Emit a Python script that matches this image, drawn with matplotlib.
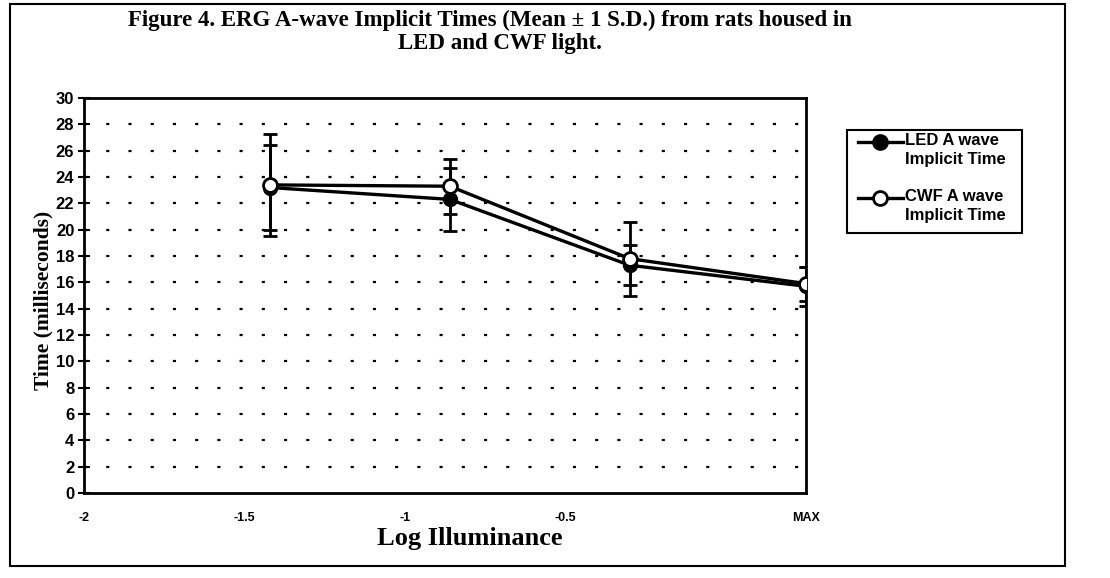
import matplotlib
matplotlib.use("Agg")
import matplotlib.pyplot as plt
from matplotlib.patches import Rectangle
from matplotlib.lines import Line2D

# ---- data ----
x_pos = [-1.42, -0.86, -0.30, 0.25]          # plotted x positions on the log-illuminance axis
led_mean = [23.2, 22.3, 17.3, 15.7]
led_sd = [3.2, 2.4, 1.5, 1.5]
cwf_mean = [23.4, 23.3, 17.8, 15.9]
cwf_sd = [3.85, 2.1, 2.8, 1.3]
x_ticks = [-2, -1.5, -1, -0.5, 0.25]
x_ticklabels = ["-2", "-1.5", "-1", "-0.5", "MAX"]
y_ticks = list(range(0, 31, 2))
series_labels = ["LED A wave\nImplicit Time", "CWF A wave\nImplicit Time"]

SANS = ["Liberation Sans", "DejaVu Sans"]
SERIF = ["Liberation Serif", "DejaVu Serif"]

W, H = 1110, 578
fig = plt.figure(figsize=(11.1, 5.78), dpi=100)
ax = fig.add_axes([84/W, 1-493/H, 722/W, 395/H])

# horizontal dotted gridlines
for yv in y_ticks[1:-1]:
    ax.axhline(yv, color="black", lw=1.6, ls=(0, (1.4, 8.6)), zorder=0)

ax.errorbar(x_pos, led_mean, yerr=led_sd, color="black", lw=2.4, marker="o",
            ms=10, mfc="black", mec="black", ecolor="black", elinewidth=2,
            capsize=5, capthick=2, zorder=3)
ax.errorbar(x_pos, cwf_mean, yerr=cwf_sd, color="black", lw=2.4, marker="o",
            ms=10, mfc="white", mec="black", mew=2, ecolor="black", elinewidth=2,
            capsize=5, capthick=2, zorder=4)

ax.set_xlim(-2, 0.25)
ax.set_ylim(0, 30)
ax.set_yticks(y_ticks)
ax.set_xticks(x_ticks)
ax.set_xticklabels(x_ticklabels)
for s in ax.spines.values():
    s.set_linewidth(2)
ax.tick_params(axis="y", direction="inout", length=8, width=1.5, pad=3)
ax.tick_params(axis="x", length=0, pad=14)
for lab in ax.get_yticklabels():
    lab.set_fontfamily(SANS); lab.set_fontweight("bold"); lab.set_fontsize(12)
for lab in ax.get_xticklabels():
    lab.set_fontfamily(SANS); lab.set_fontweight("bold"); lab.set_fontsize(9)

fig.text(43/W, 1-300/H, "Time (milliseconds)", fontfamily=SERIF, fontweight="bold",
         fontsize=15.5, rotation=90, ha="center", va="center")
fig.text(470/W, 1-538/H, "Log Illuminance", fontfamily=SERIF, fontweight="bold",
         fontsize=19, ha="center", va="center")

fig.text(128/W, 1-20/H, "Figure 4. ERG A-wave Implicit Times (Mean \u00b1 1 S.D.) from rats housed in",
         fontfamily=SERIF, fontweight="bold", fontsize=16.5, ha="left", va="center")
fig.text(500/W, 1-44/H, "LED and CWF light.", fontfamily=SERIF, fontweight="bold",
         fontsize=16.5, ha="center", va="center")

# legend (marker aligned with first text line, as in the reference)
fig.patches.append(Rectangle((847/W, 1-233/H), 175/W, 103/H, transform=fig.transFigure,
                             fill=False, edgecolor="black", lw=1.5))
leg_y = [142, 198]
leg_fc = ["black", "white"]
for yy, fc, lab in zip(leg_y, leg_fc, series_labels):
    fig.add_artist(Line2D([858/W, 903/W], [1-yy/H, 1-yy/H], transform=fig.transFigure,
                          color="black", lw=2.4))
    fig.add_artist(Line2D([880/W], [1-yy/H], transform=fig.transFigure, marker="o",
                          ms=10, mfc=fc, mec="black", mew=2, lw=0))
    fig.text(905/W, 1-(yy-9)/H, lab, fontfamily=SANS, fontweight="bold", fontsize=12,
             ha="left", va="top", linespacing=1.3)

# outer chart border
fig.patches.append(Rectangle((10/W, 1-566/H), 1055/W, 562/H,
                             transform=fig.transFigure, fill=False,
                             edgecolor="black", lw=1.5))

fig.savefig("out.png", dpi=100)
